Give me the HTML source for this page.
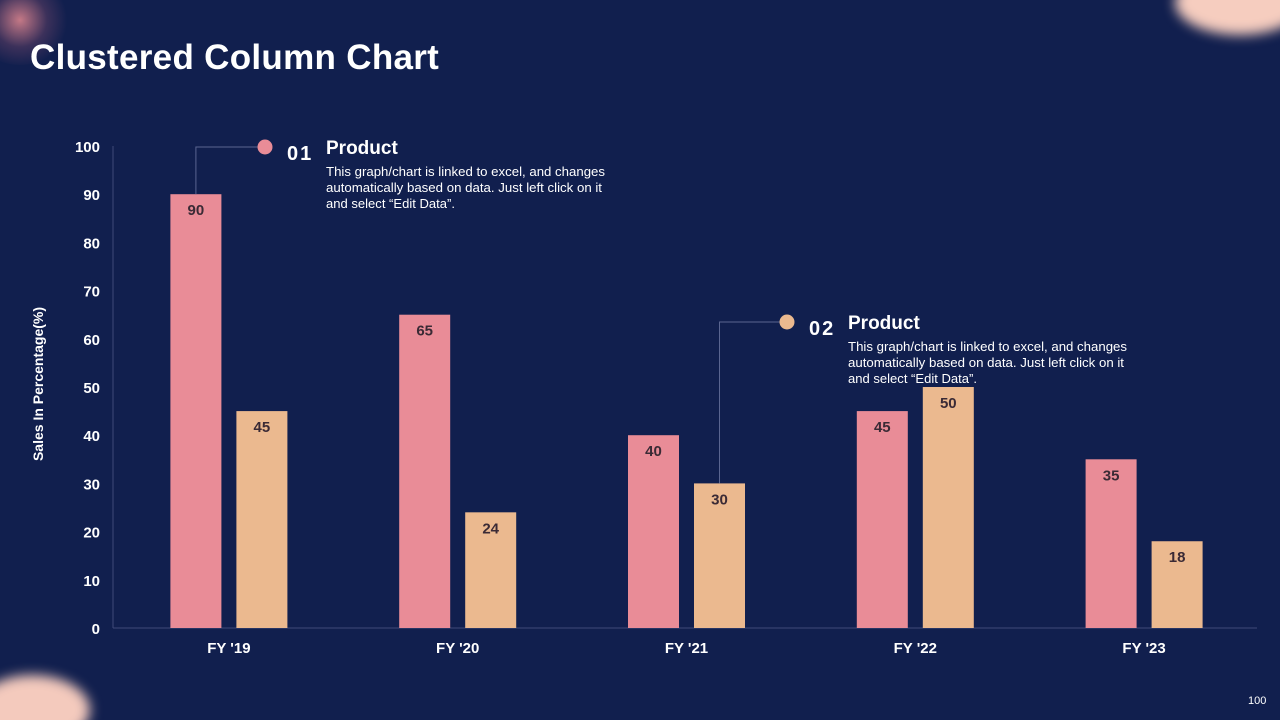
<!DOCTYPE html>
<html style="margin:0;width:1280px;height:720px;overflow:hidden"><head><meta charset="utf-8"><style>
body{margin:0;width:1280px;height:720px;overflow:hidden;background:#111f4e;font-family:"Liberation Sans",sans-serif;position:relative}
.blob{position:absolute;border-radius:50%}
</style></head><body>
<div class="blob" style="left:-30px;top:-25px;width:100px;height:90px;background:radial-gradient(circle,rgba(215,130,140,0.9),rgba(160,90,120,0.3) 40%,rgba(17,31,78,0) 70%)"></div>
<div class="blob" style="left:1175px;top:-30px;width:130px;height:65px;background:#f6cdbf;filter:blur(6px)"></div>
<div class="blob" style="left:-25px;top:675px;width:115px;height:70px;background:#f4cabd;filter:blur(6px)"></div>
<div style="position:absolute;left:30px;top:38px;color:#fff;font-size:35px;font-weight:bold;letter-spacing:0.3px">Clustered Column Chart</div>
<div style="position:absolute;left:1248px;top:695px;color:#fff;font-size:11px">100</div>
<svg id="chart" width="1280" height="720" style="position:absolute;left:0;top:0"></svg>
<script>
const categories=["FY '19","FY '20","FY '21","FY '22","FY '23"];
const product1=[90,65,40,45,35];
const product2=[45,24,30,50,18];
const yTicks=[0,10,20,30,40,50,60,70,80,90,100];
const svg=document.getElementById('chart');
const NS='http://www.w3.org/2000/svg';
const y0=628,yTop=146,xL=113,xR=1257;
const y=v=>y0-(v/100)*(y0-yTop);
const band=(xR-xL)/categories.length;
const cx=i=>xL+1.5+band*(i+0.5);
function mk(t,a,txt){const e=document.createElementNS(NS,t);for(const k in a)e.setAttribute(k,a[k]);if(txt!==undefined)e.textContent=txt;svg.appendChild(e);return e;}
let ax=mk('line',{x1:xL,y1:yTop,x2:xL,y2:y0,stroke:'#3e4a78'});

let bx=mk('line',{x1:xL,y1:y0,x2:xR,y2:y0,stroke:'#3e4a78'});

yTicks.forEach(t=>{const e=mk('text',{x:100,y:y(t)+6,'text-anchor':'end',fill:'#fff','font-size':15,'font-weight':'bold'},t);
});
let yt=mk('text',{x:43,y:384,transform:'rotate(-90 43 384)','text-anchor':'middle',fill:'#fff','font-size':14,'font-weight':'bold'},'Sales In Percentage(%)');

const bw=51;
categories.forEach((c,i)=>{
 const l=mk('text',{x:cx(i),y:653,'text-anchor':'middle',fill:'#fff','font-size':15,'font-weight':'bold'},c);
 
 [[product1,'#e98c97',-33,'product-1'],[product2,'#ebb98f',33,'product-2']].forEach(([arr,col,off,n])=>{
  const v=arr[i],x=cx(i)+off-bw/2;
  const r=mk('rect',{x:x,y:y(v),width:bw,height:y0-y(v),fill:col});
  
  const t=mk('text',{x:x+bw/2,y:y(v)+21,'text-anchor':'middle',fill:'#3a2a35','font-size':15,'font-weight':'bold'},v);
  
 });
});
function callout(px,py,dotX,dotY,col,num,name){
 const p=mk('polyline',{points:`${px},${py} ${px},${dotY} ${dotX},${dotY}`,fill:'none',stroke:'#5a6590'});
 
 const c=mk('circle',{cx:dotX,cy:dotY,r:7.5,fill:col});
 
 const n=mk('text',{x:dotX+22,y:dotY+13,fill:'#fff','font-size':20,'font-weight':'bold','letter-spacing':2},num);
 
 const h=mk('text',{x:dotX+61,y:dotY+7,fill:'#fff','font-size':19,'font-weight':'bold'},'Product');
 
 [['This graph/chart is linked to excel, and changes',279],['automatically based on data. Just left click on it',276],['and select \u201cEdit Data\u201d.',129]].forEach(([s,w],k)=>{
  const d=mk('text',{x:dotX+61,y:dotY+29+k*16,fill:'#fff','font-size':12.5,textLength:w,lengthAdjust:'spacingAndGlyphs'},s);
  
 });
}
callout(cx(0)-33,y(product1[0]),265,147,'#e98c97','01','callout-1');
callout(cx(2)+33,y(product2[2]),787,322,'#ebb98f','02','callout-2');
</script>
</body></html>
